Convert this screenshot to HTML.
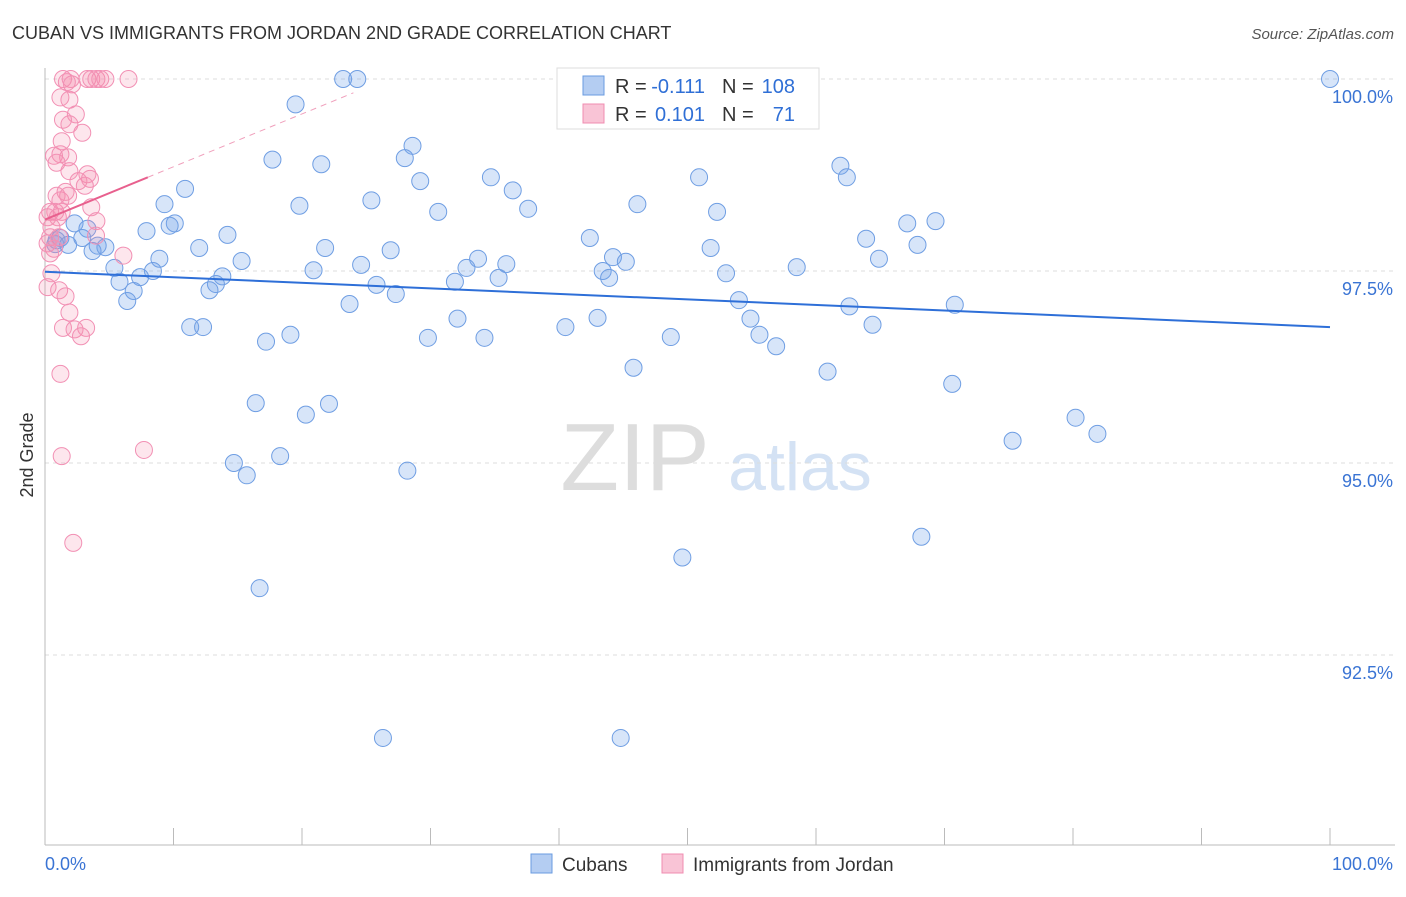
<!DOCTYPE html>
<html><head><meta charset="utf-8"><style>
body{margin:0;background:#fff;font-family:"Liberation Sans",sans-serif}
svg text{font-family:"Liberation Sans",sans-serif}
</style></head><body>
<svg id="chart" width="1406" height="892">
<text x="12" y="39" font-size="18" fill="#333">CUBAN VS IMMIGRANTS FROM JORDAN 2ND GRADE CORRELATION CHART</text>
<text x="1394" y="39" font-size="15" fill="#555" font-style="italic" text-anchor="end">Source: ZipAtlas.com</text>
<text transform="translate(33,455) rotate(-90)" font-size="18" fill="#333" text-anchor="middle">2nd Grade</text>
<g><text x="635" y="490" font-size="96" fill="#ddd" font-family="Liberation Serif" text-anchor="middle">ZIP</text><text x="800" y="490" font-size="68" fill="#d4e2f4" text-anchor="middle">atlas</text></g>
<g id="grid"></g><g id="marks"></g>
<g>
<rect x="557" y="68" width="262" height="61" fill="#fff" stroke="#ddd"/>
<rect x="583" y="76" width="21" height="19" fill="#b4cdf2" stroke="#6a9be0"/>
<rect x="583" y="104" width="21" height="19" fill="#f9c4d6" stroke="#f08cb0"/>
<text x="615" y="93" font-size="20" fill="#333">R =</text>
<text x="705" y="93" font-size="20" fill="#2f6fd6" text-anchor="end">-0.111</text>
<text x="722" y="93" font-size="20" fill="#333">N =</text>
<text x="795" y="93" font-size="20" fill="#2f6fd6" text-anchor="end">108</text>
<text x="615" y="121" font-size="20" fill="#333">R =</text>
<text x="705" y="121" font-size="20" fill="#2f6fd6" text-anchor="end">0.101</text>
<text x="722" y="121" font-size="20" fill="#333">N =</text>
<text x="795" y="121" font-size="20" fill="#2f6fd6" text-anchor="end">71</text>
</g>
<g>
<rect x="531" y="854" width="21" height="19" fill="#b4cdf2" stroke="#6a9be0"/>
<text x="562" y="871" font-size="19" fill="#333">Cubans</text>
<rect x="662" y="854" width="21" height="19" fill="#f9c4d6" stroke="#f08cb0"/>
<text x="693" y="871" font-size="19" fill="#333">Immigrants from Jordan</text>
</g>
</svg>
<script>
const yTicks=[100,97.5,95,92.5];
const yTickLabels=["100.0%","97.5%","95.0%","92.5%"];
const xTickLabels=["0.0%","100.0%"];
const cubanX=[100,23.2,24.3,19.5,28.6,28.0,17.7,21.5,61.9,62.4,34.7,50.9,29.2,10.9,36.4,25.4,9.3,19.8,46.1,37.6,30.6,52.3,67.1,69.3,2.3,10.1,9.7,3.3,7.9,14.2,0.9,2.9,1.2,42.4,63.9,0.8,1.8,4.1,4.7,3.7,12.0,21.8,26.9,51.8,67.9,33.7,44.2,45.2,64.9,8.9,15.3,35.9,32.8,24.6,5.4,8.4,20.9,58.5,43.4,53.0,13.8,7.4,43.9,35.3,31.9,5.8,13.3,25.8,6.9,12.8,27.3,6.4,54.0,23.7,62.6,70.8,32.1,43.0,54.9,11.3,12.3,40.5,64.4,19.1,29.8,34.2,48.7,55.6,17.2,56.9,45.8,60.9,70.6,16.4,22.1,20.3,80.2,81.9,75.3,18.3,14.7,28.2,15.7,68.2,49.6,16.7,26.3,44.8];
const cubanY=[100,100,100,99.67,99.13,98.97,98.95,98.89,98.87,98.72,98.72,98.72,98.67,98.57,98.55,98.42,98.37,98.35,98.37,98.31,98.27,98.27,98.12,98.15,98.12,98.12,98.09,98.05,98.02,97.97,97.9,97.93,97.93,97.93,97.92,97.85,97.84,97.83,97.81,97.76,97.8,97.8,97.77,97.8,97.84,97.66,97.68,97.62,97.66,97.66,97.63,97.59,97.54,97.58,97.54,97.5,97.51,97.55,97.5,97.47,97.43,97.42,97.41,97.41,97.36,97.36,97.33,97.32,97.24,97.25,97.2,97.11,97.12,97.07,97.04,97.06,96.88,96.89,96.88,96.77,96.77,96.77,96.8,96.67,96.63,96.63,96.64,96.67,96.58,96.52,96.24,96.19,96.03,95.78,95.77,95.63,95.59,95.38,95.29,95.09,95.0,94.9,94.84,94.04,93.77,93.37,91.42,91.42];
const jordanX=[1.4,2.0,1.7,3.3,3.6,4.0,4.3,4.7,6.5,2.1,1.2,1.9,2.4,1.4,1.9,2.9,1.3,0.7,1.2,1.8,0.9,1.9,3.3,2.6,3.5,3.1,1.6,0.9,1.2,1.8,3.6,0.4,0.8,1.3,0.2,1.0,4.0,0.5,0.4,1.1,3.97,0.2,0.7,0.4,6.1,0.5,0.2,1.1,1.6,1.9,1.4,2.3,3.2,2.8,1.2,7.7,1.3,2.2];
const jordanY=[100,100,99.96,100,100,100,100,100,100,99.93,99.76,99.73,99.54,99.47,99.41,99.3,99.19,99.0,99.02,98.98,98.91,98.8,98.76,98.67,98.7,98.61,98.53,98.48,98.42,98.48,98.33,98.27,98.27,98.27,98.2,98.2,98.15,98.07,97.94,97.94,97.96,97.86,97.79,97.73,97.7,97.47,97.29,97.25,97.17,96.96,96.76,96.74,96.76,96.65,96.16,95.17,95.09,93.96];
const cubanTrend=[97.49,96.77];
const jordanTrend=[98.17,98.72];
const X0=45,X1=1330,Y100=79,PX=76.8;
const xs=v=>X0+(X1-X0)*v/100;
const ys=v=>Y100+(100-v)*PX;
const NS="http://www.w3.org/2000/svg";
const grid=document.getElementById('grid'),marks=document.getElementById('marks');
function mk(tag,attrs,parent){const e=document.createElementNS(NS,tag);for(const k in attrs)e.setAttribute(k,attrs[k]);parent.appendChild(e);return e;}
yTicks.forEach((t,i)=>{
 const l=mk('line',{x1:45,x2:1395,y1:ys(t),y2:ys(t),stroke:'#ddd','stroke-dasharray':'4,4'},grid);
 
 
 const tx=mk('text',{x:1393,y:ys(t)+24,'font-size':18,fill:'#3a74d4','text-anchor':'end'},grid);
 tx.textContent=yTickLabels[i];
 
 
});
const ax=mk('line',{x1:45,x2:1395,y1:845,y2:845,stroke:'#bbb'},grid);


const ay=mk('line',{x1:45,x2:45,y1:68,y2:845,stroke:'#bbb'},grid);


for(let i=0;i<=10;i++){const t=mk('line',{x1:xs(i*10),x2:xs(i*10),y1:828,y2:845,stroke:'#bbb'},grid);
 
 }
[[0,'start',45],[1,'end',1393]].forEach(([i,a,x])=>{const t=mk('text',{x:x,y:870,'font-size':18,fill:'#3a74d4','text-anchor':a},grid);t.textContent=xTickLabels[i];
 
 });
cubanX.forEach((v,i)=>{const c=mk('circle',{cx:xs(v),cy:ys(cubanY[i]),r:8.5,fill:'rgba(110,160,235,0.28)',stroke:'#6f9ee3','stroke-width':1},marks);
 
 });
jordanX.forEach((v,i)=>{const c=mk('circle',{cx:xs(v),cy:ys(jordanY[i]),r:8.5,fill:'rgba(245,140,175,0.22)',stroke:'#f290b4','stroke-width':1},marks);
 
 });
const bt=mk('line',{x1:xs(0),y1:ys(cubanTrend[0]),x2:xs(100),y2:ys(cubanTrend[1]),stroke:'#2e6fd8','stroke-width':2},marks);


const slope=(jordanTrend[1]-jordanTrend[0])/8;
const pd=mk('line',{x1:xs(8),y1:ys(jordanTrend[1]),x2:xs(24),y2:ys(jordanTrend[1]+slope*16),stroke:'#f0a0bc','stroke-width':1,'stroke-dasharray':'6,5'},marks);


const pt=mk('line',{x1:xs(0),y1:ys(jordanTrend[0]),x2:xs(8),y2:ys(jordanTrend[1]),stroke:'#e8608e','stroke-width':2},marks);


</script>
</body></html>
